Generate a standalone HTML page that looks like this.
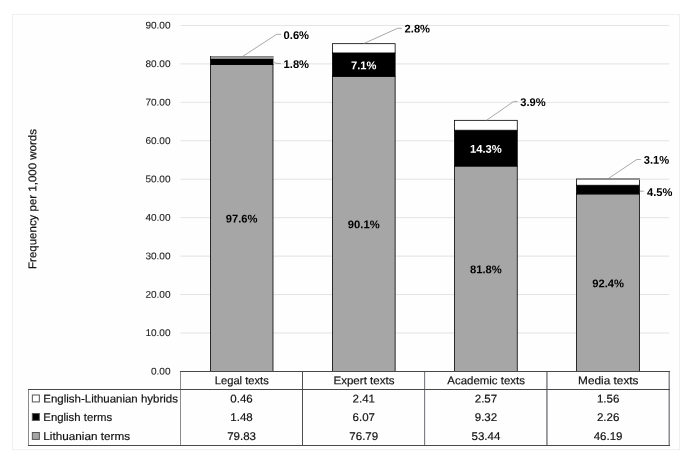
<!DOCTYPE html>
<html lang="en"><head><meta charset="utf-8"><title>Frequency per 1,000 words</title>
<style>html,body{margin:0;padding:0;background:#fff;}body{width:689px;height:461px;overflow:hidden;}svg{display:block;}text{font-family:"Liberation Sans",sans-serif;text-rendering:geometricPrecision;fill:#111;stroke:#111;stroke-width:0.18px;}.t{fill:#222;stroke:#222;stroke-width:0.1px;}.b{font-weight:bold;fill:#000;stroke:none;}.w{fill:#fff;font-weight:bold;stroke:none;}</style></head><body>
<svg width="689" height="461" viewBox="0 0 689 461">
<rect x="0" y="0" width="689" height="461" fill="#fff"/>
<rect x="12.5" y="14.5" width="667" height="435.2" fill="#fefefe" stroke="#efefef" stroke-width="1"/>
<g stroke="#d9d9d9" stroke-width="0.75">
<line x1="180.5" x2="669.2" y1="333.01" y2="333.01"/>
<line x1="180.5" x2="669.2" y1="294.56" y2="294.56"/>
<line x1="180.5" x2="669.2" y1="256.12" y2="256.12"/>
<line x1="180.5" x2="669.2" y1="217.67" y2="217.67"/>
<line x1="180.5" x2="669.2" y1="179.23" y2="179.23"/>
<line x1="180.5" x2="669.2" y1="140.79" y2="140.79"/>
<line x1="180.5" x2="669.2" y1="102.34" y2="102.34"/>
<line x1="180.5" x2="669.2" y1="63.90" y2="63.90"/>
<line x1="180.5" x2="669.2" y1="25.45" y2="25.45"/>
</g>
<text x="151.00" y="374.55" transform="rotate(0.03 151.00 374.55)" font-size="9.7" class="t" textLength="19.50" lengthAdjust="spacingAndGlyphs">0.00</text>
<text x="145.42" y="336.11" transform="rotate(0.03 145.42 336.11)" font-size="9.7" class="t" textLength="25.08" lengthAdjust="spacingAndGlyphs">10.00</text>
<text x="145.42" y="297.66" transform="rotate(0.03 145.42 297.66)" font-size="9.7" class="t" textLength="25.08" lengthAdjust="spacingAndGlyphs">20.00</text>
<text x="145.42" y="259.22" transform="rotate(0.03 145.42 259.22)" font-size="9.7" class="t" textLength="25.08" lengthAdjust="spacingAndGlyphs">30.00</text>
<text x="145.42" y="220.77" transform="rotate(0.03 145.42 220.77)" font-size="9.7" class="t" textLength="25.08" lengthAdjust="spacingAndGlyphs">40.00</text>
<text x="145.42" y="182.33" transform="rotate(0.03 145.42 182.33)" font-size="9.7" class="t" textLength="25.08" lengthAdjust="spacingAndGlyphs">50.00</text>
<text x="145.42" y="143.89" transform="rotate(0.03 145.42 143.89)" font-size="9.7" class="t" textLength="25.08" lengthAdjust="spacingAndGlyphs">60.00</text>
<text x="145.42" y="105.44" transform="rotate(0.03 145.42 105.44)" font-size="9.7" class="t" textLength="25.08" lengthAdjust="spacingAndGlyphs">70.00</text>
<text x="145.42" y="67.00" transform="rotate(0.03 145.42 67.00)" font-size="9.7" class="t" textLength="25.08" lengthAdjust="spacingAndGlyphs">80.00</text>
<text x="145.42" y="28.55" transform="rotate(0.03 145.42 28.55)" font-size="9.7" class="t" textLength="25.08" lengthAdjust="spacingAndGlyphs">90.00</text>
<text transform="translate(36.2,268.9) rotate(-90.03)" font-size="11.2" textLength="139.82" lengthAdjust="spacingAndGlyphs">Frequency per 1,000 words</text>
<g stroke="#000" stroke-width="0.8">
<rect x="210.50" y="64.60" width="62.50" height="306.90" fill="#a6a6a6"/>
<rect x="210.50" y="58.91" width="62.50" height="5.69" fill="#000"/>
<rect x="210.50" y="57.14" width="62.50" height="1.77" fill="#fff"/>
<rect x="332.50" y="76.29" width="62.63" height="295.21" fill="#a6a6a6"/>
<rect x="332.50" y="52.95" width="62.63" height="23.34" fill="#000"/>
<rect x="332.50" y="43.68" width="62.63" height="9.27" fill="#fff"/>
<rect x="454.50" y="166.05" width="62.76" height="205.45" fill="#a6a6a6"/>
<rect x="454.50" y="130.22" width="62.76" height="35.83" fill="#000"/>
<rect x="454.50" y="120.34" width="62.76" height="9.88" fill="#fff"/>
<rect x="576.50" y="193.93" width="62.89" height="177.57" fill="#a6a6a6"/>
<rect x="576.50" y="185.24" width="62.89" height="8.69" fill="#000"/>
<rect x="576.50" y="179.24" width="62.89" height="6.00" fill="#fff"/>
</g>
<g shape-rendering="crispEdges">
<rect x="210" y="55" width="63.6" height="4" fill="#fff"/>
<rect x="211" y="56" width="62" height="1" fill="#868686"/>
<rect x="211" y="57" width="62" height="1" fill="#9a9a9a"/>
<rect x="211" y="58" width="62" height="1" fill="#8e8e8e"/>
<rect x="210" y="56" width="1" height="3" fill="#2a2a2a"/>
<rect x="273" y="56" width="1" height="3" fill="#b4b4b4"/>
<rect x="576" y="178" width="64" height="2" fill="#909090"/>
<rect x="576" y="179" width="1" height="1" fill="#303030"/>
</g>
<g stroke="#8c8c8c" stroke-width="0.75" fill="none">
<polyline points="243,56.2 276.6,34.3 281,34.3"/>
<polyline points="273.6,61.5 276,63.4 280.8,63.4"/>
<polyline points="364.1,43.4 397.6,28.3 401.8,28.3"/>
<polyline points="486.4,120.4 513.4,101.6 517.6,101.6"/>
<polyline points="607.6,179 636.8,159.5 640.8,159.5"/>
<polyline points="640,191.2 643.8,191.2"/>
</g>
<text x="283.60" y="38.90" transform="rotate(0.03 283.60 38.90)" font-size="11.2" class="b" textLength="25.42" lengthAdjust="spacingAndGlyphs">0.6%</text>
<text x="283.60" y="68.10" transform="rotate(0.03 283.60 68.10)" font-size="11.2" class="b" textLength="25.42" lengthAdjust="spacingAndGlyphs">1.8%</text>
<text x="404.60" y="32.60" transform="rotate(0.03 404.60 32.60)" font-size="11.2" class="b" textLength="25.42" lengthAdjust="spacingAndGlyphs">2.8%</text>
<text x="520.20" y="106.10" transform="rotate(0.03 520.20 106.10)" font-size="11.2" class="b" textLength="25.42" lengthAdjust="spacingAndGlyphs">3.9%</text>
<text x="643.70" y="163.80" transform="rotate(0.03 643.70 163.80)" font-size="11.2" class="b" textLength="25.42" lengthAdjust="spacingAndGlyphs">3.1%</text>
<text x="647.00" y="196.10" transform="rotate(0.03 647.00 196.10)" font-size="11.2" class="b" textLength="25.42" lengthAdjust="spacingAndGlyphs">4.5%</text>
<text x="225.67" y="222.50" transform="rotate(0.03 225.67 222.50)" font-size="11.2" class="b" textLength="31.84" lengthAdjust="spacingAndGlyphs">97.6%</text>
<text x="347.84" y="228.34" transform="rotate(0.03 347.84 228.34)" font-size="11.2" class="b" textLength="31.84" lengthAdjust="spacingAndGlyphs">90.1%</text>
<text x="351.05" y="69.22" transform="rotate(0.03 351.05 69.22)" font-size="11.2" class="w" textLength="25.42" lengthAdjust="spacingAndGlyphs">7.1%</text>
<text x="470.02" y="273.23" transform="rotate(0.03 470.02 273.23)" font-size="11.2" class="b" textLength="31.84" lengthAdjust="spacingAndGlyphs">81.8%</text>
<text x="470.02" y="152.74" transform="rotate(0.03 470.02 152.74)" font-size="11.2" class="w" textLength="31.84" lengthAdjust="spacingAndGlyphs">14.3%</text>
<text x="592.19" y="287.16" transform="rotate(0.03 592.19 287.16)" font-size="11.2" class="b" textLength="31.84" lengthAdjust="spacingAndGlyphs">92.4%</text>
<g shape-rendering="crispEdges">
<rect x="28" y="389" width="1" height="57" fill="#8a8a8c"/>
<rect x="180" y="371" width="1" height="75" fill="#898b8f"/>
<rect x="302" y="371" width="1" height="75" fill="#4e4e50"/>
<rect x="424" y="371" width="1" height="75" fill="#7f8084"/>
<rect x="425" y="371" width="1" height="75" fill="#eaebec"/>
<rect x="546" y="371" width="1" height="75" fill="#96979b"/>
<rect x="547" y="371" width="1" height="75" fill="#a8a9ad"/>
<rect x="668" y="371" width="1" height="75" fill="#c0c1c5"/>
<rect x="669" y="371" width="1" height="75" fill="#8c8d91"/>
<rect x="180" y="371" width="490" height="1" fill="#484848"/>
<rect x="28" y="389" width="642" height="1" fill="#484848"/>
<rect x="28" y="445" width="642" height="1" fill="#4a4a4a"/>
</g>
<rect x="32.35" y="395.0" width="7" height="6.9" fill="#fff" stroke="#555" stroke-width="1"/>
<text x="43.30" y="402.40" transform="rotate(0.03 43.30 402.40)" font-size="11.2" textLength="134.67" lengthAdjust="spacingAndGlyphs">English-Lithuanian hybrids</text>
<text x="230.37" y="402.40" transform="rotate(0.03 230.37 402.40)" font-size="11.2" textLength="22.43" lengthAdjust="spacingAndGlyphs">0.46</text>
<text x="352.55" y="402.40" transform="rotate(0.03 352.55 402.40)" font-size="11.2" textLength="22.43" lengthAdjust="spacingAndGlyphs">2.41</text>
<text x="474.72" y="402.40" transform="rotate(0.03 474.72 402.40)" font-size="11.2" textLength="22.43" lengthAdjust="spacingAndGlyphs">2.57</text>
<text x="596.90" y="402.40" transform="rotate(0.03 596.90 402.40)" font-size="11.2" textLength="22.43" lengthAdjust="spacingAndGlyphs">1.56</text>
<rect x="32.35" y="413.5" width="7" height="6.9" fill="#000" stroke="#555" stroke-width="1"/>
<text x="43.30" y="420.90" transform="rotate(0.03 43.30 420.90)" font-size="11.2" textLength="68.90" lengthAdjust="spacingAndGlyphs">English terms</text>
<text x="230.37" y="420.90" transform="rotate(0.03 230.37 420.90)" font-size="11.2" textLength="22.43" lengthAdjust="spacingAndGlyphs">1.48</text>
<text x="352.55" y="420.90" transform="rotate(0.03 352.55 420.90)" font-size="11.2" textLength="22.43" lengthAdjust="spacingAndGlyphs">6.07</text>
<text x="474.72" y="420.90" transform="rotate(0.03 474.72 420.90)" font-size="11.2" textLength="22.43" lengthAdjust="spacingAndGlyphs">9.32</text>
<text x="596.90" y="420.90" transform="rotate(0.03 596.90 420.90)" font-size="11.2" textLength="22.43" lengthAdjust="spacingAndGlyphs">2.26</text>
<rect x="32.35" y="432.5" width="7" height="6.9" fill="#a6a6a6" stroke="#555" stroke-width="1"/>
<text x="43.30" y="439.90" transform="rotate(0.03 43.30 439.90)" font-size="11.2" textLength="86.79" lengthAdjust="spacingAndGlyphs">Lithuanian terms</text>
<text x="227.17" y="439.90" transform="rotate(0.03 227.17 439.90)" font-size="11.2" textLength="28.84" lengthAdjust="spacingAndGlyphs">79.83</text>
<text x="349.34" y="439.90" transform="rotate(0.03 349.34 439.90)" font-size="11.2" textLength="28.84" lengthAdjust="spacingAndGlyphs">76.79</text>
<text x="471.52" y="439.90" transform="rotate(0.03 471.52 439.90)" font-size="11.2" textLength="28.84" lengthAdjust="spacingAndGlyphs">53.44</text>
<text x="593.69" y="439.90" transform="rotate(0.03 593.69 439.90)" font-size="11.2" textLength="28.84" lengthAdjust="spacingAndGlyphs">46.19</text>
<text x="214.76" y="384.20" transform="rotate(0.03 214.76 384.20)" font-size="11.2" textLength="54.06" lengthAdjust="spacingAndGlyphs">Legal texts</text>
<text x="333.46" y="384.20" transform="rotate(0.03 333.46 384.20)" font-size="11.2" textLength="61.01" lengthAdjust="spacingAndGlyphs">Expert texts</text>
<text x="447.29" y="384.20" transform="rotate(0.03 447.29 384.20)" font-size="11.2" textLength="77.69" lengthAdjust="spacingAndGlyphs">Academic texts</text>
<text x="578.07" y="384.20" transform="rotate(0.03 578.07 384.20)" font-size="11.2" textLength="60.49" lengthAdjust="spacingAndGlyphs">Media texts</text>
</svg></body></html>
